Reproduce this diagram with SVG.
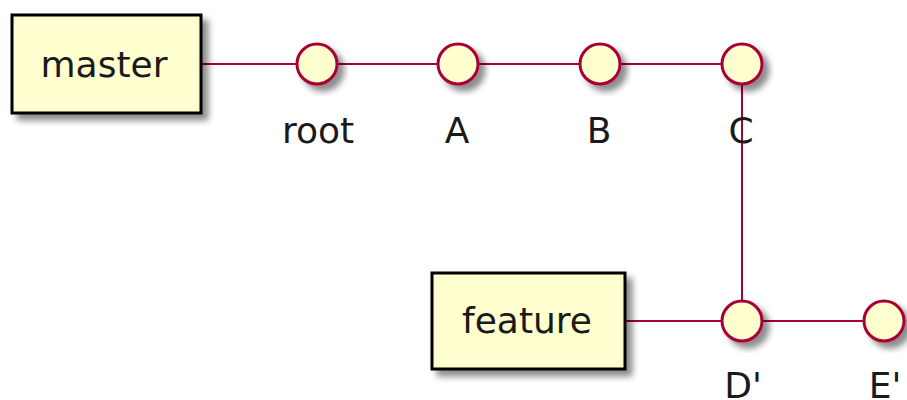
<svg xmlns="http://www.w3.org/2000/svg" width="907" height="400" viewBox="0 0 907 400">
  <defs>
    <filter id="shadow" x="-20%" y="-20%" width="150%" height="150%">
      <feGaussianBlur in="SourceAlpha" stdDeviation="3"/>
      <feOffset dx="6" dy="6" result="blur"/>
      <feFlood flood-color="#000" flood-opacity="0.45"/>
      <feComposite in2="blur" operator="in"/>
      <feMerge>
        <feMergeNode/>
        <feMergeNode in="SourceGraphic"/>
      </feMerge>
    </filter>
  </defs>
  <style>
    .box { fill: #FEFECE; stroke: #000; stroke-width: 3; filter: url(#shadow); }
    .commit { fill: #FEFECE; stroke: #A80036; stroke-width: 3; filter: url(#shadow); }
    .edge { stroke: #A80036; stroke-width: 2; fill: none; }
    text { font-family: "DejaVu Sans", sans-serif; font-size: 36px; fill: #1a1a1a; text-anchor: middle; }
  </style>

  <!-- connectors -->
  <g id="connectors">
    <line class="edge" x1="201" y1="64" x2="297" y2="64"/>
    <line class="edge" x1="337" y1="64" x2="438" y2="64"/>
    <line class="edge" x1="478" y1="64" x2="580" y2="64"/>
    <line class="edge" x1="620" y1="64" x2="722" y2="64"/>
    <line class="edge" x1="742" y1="84" x2="742" y2="301"/>
    <line class="edge" x1="625" y1="321" x2="722" y2="321"/>
    <line class="edge" x1="762" y1="321" x2="864" y2="321"/>
  </g>

  <g id="master">
    <rect class="box" x="12" y="15" width="189" height="98"/>
    <text x="104" y="77">master</text>
  </g>
  <g id="feature">
    <rect class="box" x="432" y="273" width="193" height="96"/>
    <text x="527" y="333">feature</text>
  </g>

  <g id="root">
    <circle class="commit" cx="317" cy="64" r="20"/>
    <text x="318" y="143">root</text>
  </g>
  <g id="A">
    <circle class="commit" cx="458" cy="64" r="20"/>
    <text x="457" y="143">A</text>
  </g>
  <g id="B">
    <circle class="commit" cx="600" cy="64" r="20"/>
    <text x="599" y="143">B</text>
  </g>
  <g id="C">
    <circle class="commit" cx="742" cy="64" r="20"/>
    <text x="741" y="143">C</text>
  </g>
  <g id="D-prime">
    <circle class="commit" cx="742" cy="321" r="20"/>
    <text x="743" y="398">D'</text>
  </g>
  <g id="E-prime">
    <circle class="commit" cx="884" cy="321" r="20"/>
    <text x="885" y="398">E'</text>
  </g>
</svg>
